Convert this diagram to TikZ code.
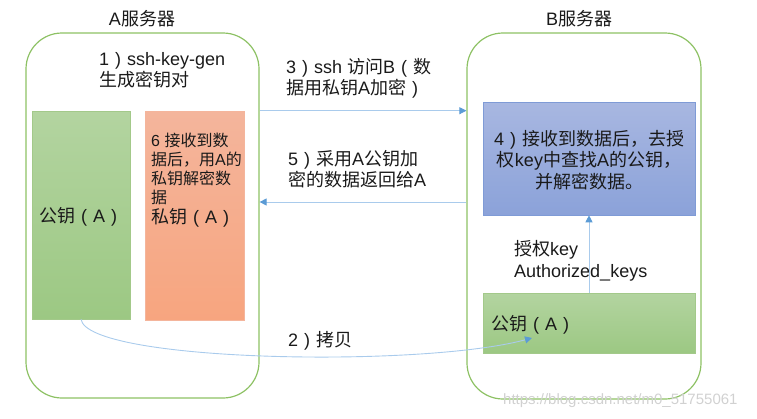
\documentclass[tikz,border=0pt]{standalone}
\usepackage{fontspec}
\setmainfont{Liberation Sans}
\newfontfamily\cjk{Noto Sans CJK SC}
\newcommand\zh[1]{{\cjk #1}}
\newcommand\lpar{\makebox[1em][c]{(}}
\newcommand\rpar{\makebox[1em][c]{)}}
\usetikzlibrary{arrows.meta,shadings}
\definecolor{contgreen}{HTML}{8DC164}
\definecolor{gtop}{HTML}{B3D4A0}
\definecolor{gbot}{HTML}{9CC883}
\definecolor{gline}{HTML}{A3C98A}
\definecolor{otop}{HTML}{F4B59C}
\definecolor{obot}{HTML}{F7A57F}
\definecolor{btop}{HTML}{A8B7E1}
\definecolor{bbot}{HTML}{8BA2D9}
\definecolor{bline}{HTML}{7F9BD6}
\definecolor{arrline}{HTML}{A9CBEC}
\definecolor{arrtip}{HTML}{5B9BD5}
\definecolor{txt}{HTML}{1A1A1A}
\tikzset{
  container/.style={draw=contgreen, line width=1.2pt, rounded corners=36pt, inner sep=0pt},
  greenbox/.style={draw=gline, line width=0.6pt, top color=gtop, bottom color=gbot, inner sep=0pt},
  orangebox/.style={draw=otop, line width=0.6pt, top color=otop, bottom color=obot, inner sep=0pt},
  bluebox/.style={draw=bline, line width=0.6pt, top color=btop, bottom color=bbot, inner sep=0pt},
  conn/.style={draw=arrline, line width=0.9pt, -{Triangle[width=7pt,length=7pt,fill=arrtip,color=arrtip]}},
  lbl/.style={inner sep=0pt, text=txt, font=\fontsize{18}{21.5}\selectfont},
  smalllbl/.style={inner sep=0pt, text=txt, font=\fontsize{16}{18.8}\selectfont},
}
\begin{document}
\begin{tikzpicture}[x=1pt,y=-1pt]
\useasboundingbox (0,0) rectangle (757,418);
% containers
\node[container, minimum width=233pt, minimum height=365pt] (A) at (142.5,215.5) {};
\node[container, minimum width=234pt, minimum height=366pt] (B) at (584,216) {};
% titles
\node[lbl, anchor=base] (Atitle) at (142,25) {A\zh{服务器}};
\node[lbl, anchor=base] (Btitle) at (579,25) {B\zh{服务器}};
% boxes in A
\node[greenbox, minimum width=98pt, minimum height=208pt] (Akey) at (81,215) {};
\node[orangebox, minimum width=99pt, minimum height=209pt] (Apriv) at (194.5,215.5) {};
% boxes in B
\node[bluebox, minimum width=212pt, minimum height=113pt] (Bblue) at (589,158.5) {};
\node[greenbox, minimum width=212pt, minimum height=60pt] (Bkey) at (589,323) {};
% texts
\node[lbl, anchor=north west, align=left] (t1) at (99,52) {1\rpar ssh-key-gen\\\zh{生成密钥对}};
\node[lbl, anchor=base west] (tAkey) at (39,222.5) {\zh{公钥}\lpar A\rpar};
\node[smalllbl, anchor=north west, align=left] (t6) at (151,133) {6 \zh{接收到数}\\\zh{据后，用}A\zh{的}\\\zh{私钥解密数}\\\zh{据}};
\node[lbl, anchor=base west] (tApriv) at (151,223.5) {\zh{私钥}\lpar A\rpar};
\node[lbl, anchor=north west, align=left] (t3) at (286,58) {3\rpar ssh \zh{访问}B\lpar\zh{数}\\\zh{据用私钥}A\zh{加密}\rpar};
\node[lbl, anchor=north west, align=left] (t5) at (288,150) {5\rpar\zh{采用}A\zh{公钥加}\\\zh{密的数据返回给}A};
\node[lbl, align=center] (t4) at (589,160) {4\rpar\zh{接收到数据后，去授}\\\zh{权}key\zh{中查找}A\zh{的公钥，}\\\zh{并解密数据。}};
\node[lbl, anchor=north west, align=left] (tauth) at (514,240.5) {\zh{授权}key\\Authorized\_keys};
\node[lbl, anchor=base west] (tBkey) at (491,330) {\zh{公钥}\lpar A\rpar};
\node[lbl, anchor=base west] (t2) at (288,346) {2\rpar\zh{拷贝}};
% watermark
\node[inner sep=0pt, anchor=base west, text=black!18, font=\fontsize{15}{18}\selectfont] (wm) at (503,404) {https://blog.csdn.net/m0\_51755061};
% connectors
\coordinate (y5) at (0,202);
\coordinate (copyend) at (532,338);
\draw[conn] (A.east |- Akey.north) -- (B.west |- Akey.north);
\draw[conn] (B.west |- y5) -- (A.east |- y5);
\draw[conn] (Bkey.north) -- (Bblue.south);
\draw[conn] (Akey.south) .. controls (88,362) and (420,368) .. (copyend);
\end{tikzpicture}
\end{document}
